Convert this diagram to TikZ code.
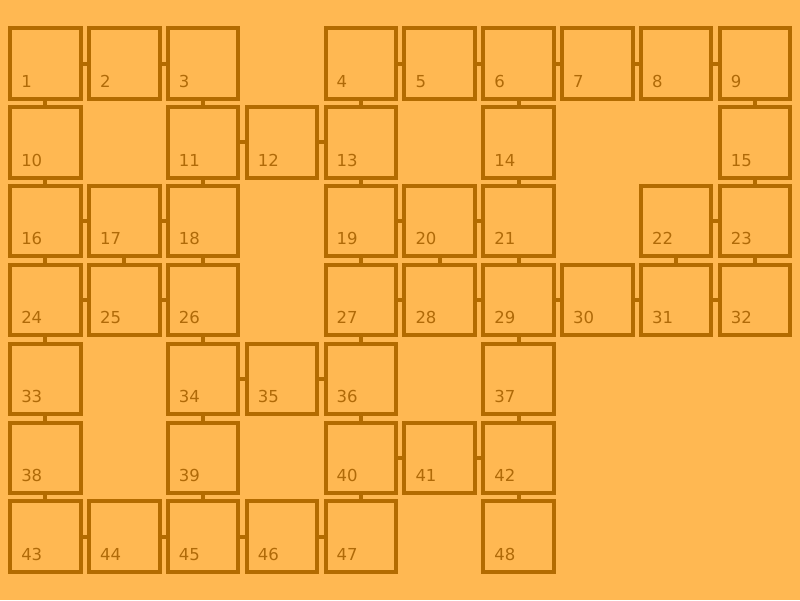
\documentclass[tikz,border=0pt]{standalone}
\usepackage{fontspec}
\setmainfont{DejaVu Sans}
\definecolor{cellbg}{HTML}{FFB852}
\definecolor{cellline}{HTML}{B36B00}
\definecolor{cellnumtext}{HTML}{B06A08}
\tikzset{
  cell/.style={
    draw=cellline,
    rectangle,
    line width=4pt,
    minimum width=70.5pt,
    minimum height=70.5pt,
    inner sep=0pt,
    outer sep=0pt
  },
  cellnum/.style={
    anchor=base west,
    inner sep=0pt,
    xshift=10.9pt,
    yshift=11.6pt,
    text=cellnumtext,
    font=\fontsize{16.5}{20}\selectfont
  },
  link/.style={
    draw=cellline,
    line width=4pt
  }
}
\def\pitch{78.85}

\begin{document}
\begin{tikzpicture}[x=1pt,y=1pt]

\fill[cellbg] (0,0) rectangle (800,-600);
\useasboundingbox (0,0) rectangle (800,-600);

\foreach \n/\c/\r in {1/0/0,2/1/0,3/2/0,4/4/0,5/5/0,6/6/0,7/7/0,8/8/0,9/9/0,
    10/0/1,11/2/1,12/3/1,13/4/1,14/6/1,15/9/1,
    16/0/2,17/1/2,18/2/2,19/4/2,20/5/2,21/6/2,22/8/2,23/9/2,
    24/0/3,25/1/3,26/2/3,27/4/3,28/5/3,29/6/3,30/7/3,31/8/3,32/9/3,
    33/0/4,34/2/4,35/3/4,36/4/4,37/6/4,
    38/0/5,39/2/5,40/4/5,41/5/5,42/6/5,
    43/0/6,44/1/6,45/2/6,46/3/6,47/4/6,48/6/6}
  \node[cell, label={[cellnum]south west:\n}] (c\n)
    at ({45.4+\c*\pitch},{-63.5-\r*\pitch}) {};

\foreach \a/\b in {1/2,2/3,4/5,5/6,6/7,7/8,8/9,11/12,12/13,
    16/17,17/18,19/20,20/21,22/23,24/25,25/26,27/28,28/29,29/30,30/31,31/32,
    34/35,35/36,40/41,41/42,43/44,44/45,45/46,46/47}
  \draw[link] (c\a) -- (c\b);

\foreach \a/\b in {1/10,3/11,4/13,6/14,9/15,10/16,11/18,13/19,14/21,15/23,
    16/24,17/25,18/26,19/27,20/28,21/29,22/31,23/32,24/33,26/34,27/36,29/37,
    33/38,34/39,36/40,37/42,38/43,39/45,40/47,42/48}
  \draw[link] (c\a) -- (c\b);

\end{tikzpicture}
\end{document}
